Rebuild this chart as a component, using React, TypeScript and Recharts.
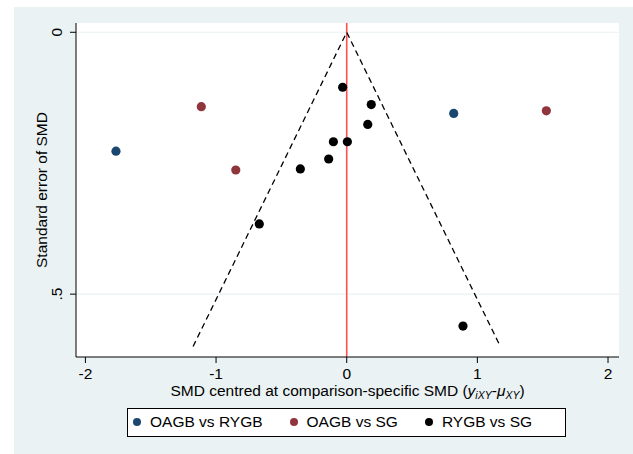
import React from "react";
import {
  ScatterChart,
  Scatter,
  XAxis,
  YAxis,
  CartesianGrid,
  ReferenceLine,
  Legend,
} from "recharts";

const xTicks = [-2, -1, 0, 1, 2];
const yTicks = [0, 0.5];

const oagbVsRygb = [
  { x: -1.766, y: 0.227 },
  { x: 0.819, y: 0.155 },
];
const oagbVsSg = [
  { x: -1.113, y: 0.142 },
  { x: -0.849, y: 0.263 },
  { x: 1.528, y: 0.15 },
];
const rygbVsSg = [
  { x: -0.031, y: 0.105 },
  { x: 0.188, y: 0.138 },
  { x: 0.161, y: 0.176 },
  { x: -0.102, y: 0.209 },
  { x: 0.005, y: 0.209 },
  { x: -0.138, y: 0.242 },
  { x: -0.355, y: 0.261 },
  { x: -0.669, y: 0.366 },
  { x: 0.89, y: 0.561 },
];
const funnel = [
  { x: -1.176, y: 0.6 },
  { x: 0, y: 0 },
  { x: 1.176, y: 0.6 },
];

const legendItems = [
  { name: "OAGB vs RYGB", color: "#1A476F" },
  { name: "OAGB vs SG", color: "#90353B" },
  { name: "RYGB vs SG", color: "#000000" },
];

const FONT = "'Liberation Sans', Arial, Helvetica, sans-serif";
const FS = 15.5;

const dot = (color: string) => (props: any) => {
  const { cx, cy } = props;
  if (cx == null || cy == null) return <g />;
  return <circle cx={cx} cy={cy} r={4.6} fill={color} />;
};

const YTick = (props: any) => {
  const { x, y, payload } = props;
  const label = payload.value === 0 ? "0" : ".5";
  return (
    <text
      x={62.5}
      y={y}
      transform={`rotate(-90 62.5 ${y})`}
      textAnchor="middle"
      fontSize={FS}
      fontFamily={FONT}
      fill="#000"
    >
      {label}
    </text>
  );
};

const XTick = (props: any) => {
  const { x, y, payload } = props;
  return (
    <text
      x={x}
      y={378.5}
      textAnchor="middle"
      fontSize={FS}
      fontFamily={FONT}
      fill="#000"
    >
      {String(payload.value)}
    </text>
  );
};

const XLabel = (props: any) => {
  const vb = props.viewBox || { x: 76, width: 543, y: 357 };
  const cx = vb.x + vb.width / 2;
  return (
    <text
      x={cx}
      y={395.5}
      textAnchor="middle"
      fontSize={FS}
      fontFamily={FONT}
      fill="#000"
    >
      <tspan>SMD centred at comparison-specific SMD (</tspan>
      <tspan fontStyle="italic">y</tspan>
      <tspan fontStyle="italic" fontSize={10.5} dy={3}>
        iXY
      </tspan>
      <tspan dy={-3}>-</tspan>
      <tspan fontStyle="italic">μ</tspan>
      <tspan fontStyle="italic" fontSize={10.5} dy={3}>
        XY
      </tspan>
      <tspan dy={-3}>)</tspan>
    </text>
  );
};

const YLabel = (props: any) => {
  const vb = props.viewBox || { y: 23, height: 334 };
  const cy = vb.y + vb.height / 2;
  return (
    <text
      x={46.5}
      y={cy}
      transform={`rotate(-90 46.5 ${cy})`}
      textAnchor="middle"
      fontSize={FS}
      fontFamily={FONT}
      fill="#000"
    >
      Standard error of SMD
    </text>
  );
};

const LegendContent = () => (
  <div
    style={{
      boxSizing: "border-box",
      width: 439,
      height: 29,
      border: "1px solid #000",
      background: "#fff",
      display: "flex",
      alignItems: "center",
      paddingLeft: 5,
      fontFamily: FONT,
      fontSize: FS,
      color: "#000",
      lineHeight: "1",
    }}
  >
    {legendItems.map((it, i) => (
      <div
        key={it.name}
        style={{
          display: "flex",
          alignItems: "center",
          marginRight: i < legendItems.length - 1 ? 27 : 0,
        }}
      >
        <span
          style={{
            display: "inline-block",
            width: 8,
            height: 8,
            borderRadius: "50%",
            background: it.color,
            marginRight: 9,
          }}
        />
        <span>{it.name}</span>
      </div>
    ))}
  </div>
);

export default function App() {
  return (
    <div
      style={{
        position: "absolute",
        left: 0,
        top: 0,
        width: 633,
        height: 454,
        background: "#fff",
        overflow: "hidden",
      }}
    >
      <div
        style={{
          position: "absolute",
          left: 14,
          top: 7,
          width: 619,
          height: 447,
          background: "#EAF2F3",
        }}
      />
      <div style={{ position: "absolute", left: 0, top: 0 }}>
        <ScatterChart
          width={633}
          height={454}
          margin={{ top: 23, right: 14, bottom: 47, left: 14 }}
        >
          <CartesianGrid
            fill="#ffffff"
            horizontal={false}
            vertical={false}
            stroke="none"
          />
          <XAxis
            type="number"
            dataKey="x"
            domain={[-2.072, 2.084]}
            ticks={xTicks}
            allowDataOverflow
            height={50}
            axisLine={{ stroke: "#000", strokeWidth: 1 }}
            tickLine={{ stroke: "#000", strokeWidth: 1 }}
            tickSize={6}
            tick={<XTick />}
            label={{ content: <XLabel /> }}
          />
          <YAxis
            type="number"
            dataKey="y"
            domain={[-0.0177, 0.62]}
            reversed
            ticks={yTicks}
            allowDataOverflow
            width={62}
            axisLine={{ stroke: "#000", strokeWidth: 1 }}
            tickLine={{ stroke: "#000", strokeWidth: 1 }}
            tickSize={6}
            tick={<YTick />}
            label={{ content: <YLabel /> }}
          />
          <ReferenceLine y={0} stroke="#EAF2F3" strokeWidth={1.2} />
          <ReferenceLine y={0.5} stroke="#EAF2F3" strokeWidth={1.2} />
          <Scatter
            data={funnel}
            line={{ stroke: "#000", strokeWidth: 1.3, strokeDasharray: "6 4" }}
            shape={() => <g />}
            isAnimationActive={false}
            legendType="none"
          />
          <ReferenceLine x={0} stroke="#FF4F4F" strokeWidth={1.6} />
          <Scatter
            name="OAGB vs RYGB"
            data={oagbVsRygb}
            fill="#1A476F"
            shape={dot("#1A476F")}
            isAnimationActive={false}
          />
          <Scatter
            name="OAGB vs SG"
            data={oagbVsSg}
            fill="#90353B"
            shape={dot("#90353B")}
            isAnimationActive={false}
          />
          <Scatter
            name="RYGB vs SG"
            data={rygbVsSg}
            fill="#000000"
            shape={dot("#000000")}
            isAnimationActive={false}
          />
          <Legend
            layout="horizontal"
            verticalAlign="middle"
            align="center"
            content={<LegendContent />}
            wrapperStyle={{ left: 127, top: 407.5, width: 439, height: 29 }}
          />
        </ScatterChart>
      </div>
    </div>
  );
}
